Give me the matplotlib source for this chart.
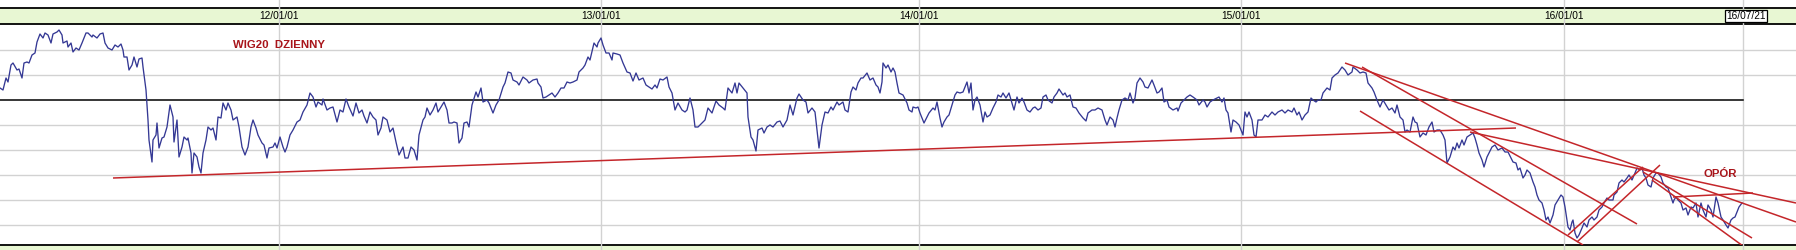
import numpy as np
import matplotlib
matplotlib.use("Agg")
import matplotlib.pyplot as plt
from matplotlib.patches import Rectangle
from matplotlib.lines import Line2D
from matplotlib import transforms

# WIG20 daily close (session index, level)
t = [0, 3, 6, 8, 11, 13, 17, 19, 22, 24, 27, 29, 32, 35, 37, 40, 43, 45, 48, 51, 53, 57, 59, 62, 63, 67, 68, 71, 73, 76,
     79, 82, 86, 88, 92, 93, 97, 100, 103, 105, 108, 112, 115, 118, 121, 123, 124, 127, 129, 132, 134, 137, 139, 142, 143,
     146, 148, 149, 152, 153, 156, 157, 159, 162, 164, 167, 170, 173, 174, 177, 179, 182, 184, 187, 188, 191, 192, 194,
     197, 199, 201, 203, 206, 208, 211, 213, 216, 218, 221, 223, 226, 228, 231, 233, 237, 239, 242, 245, 248, 251, 253,
     256, 258, 262, 264, 267, 269, 273, 275, 277, 280, 283, 285, 287, 290,
     293, 297, 300, 303, 307, 310, 313, 316, 318, 322, 323, 327, 330, 333, 337, 340, 343, 346, 349, 353, 356, 359, 362,
     364, 367, 370, 373, 376, 378, 381, 383, 387, 390, 393, 396, 399, 403, 405, 408, 411, 414, 417, 419, 423, 425, 427,
     430, 433, 436, 438, 441, 444, 447, 449, 452, 454, 457, 459, 462, 464, 467, 469, 472, 476, 478, 481, 483, 487, 489,
     493, 496, 499, 503, 505, 508, 511, 513, 517, 519, 523, 527, 529, 533, 537, 538, 541, 543, 546, 549, 552, 555, 558,
     561, 564, 567, 570, 573, 577, 579, 583, 585, 588,
     590, 594, 597, 598, 601, 603, 606, 609, 612, 613, 617, 620, 623, 627, 630, 633, 636, 639, 643, 646, 649, 652, 655,
     657, 660, 663, 667, 669, 672, 675, 678, 682, 685, 687, 690, 693, 695, 698, 702, 705, 708, 712, 713, 716, 719, 723,
     725, 728, 732, 735, 737, 739, 743, 747, 748, 751, 753, 756, 758, 762, 764, 767, 770, 773, 777, 780, 783, 787, 790,
     793, 797, 799, 803, 806, 808, 812, 815, 817, 819, 822, 825, 828, 831, 833, 837, 839, 843, 845, 848, 851, 853, 856,
     858, 861, 863, 867, 870, 873, 876, 878,
     880, 882, 883, 886, 888, 891, 893, 895, 897, 899, 903, 907, 909, 912, 913, 916, 918, 920, 922, 924, 927, 929, 933,
     935, 937, 940, 942, 944, 947, 949, 952, 955, 957, 960, 963, 965, 967, 969, 971, 973, 975, 977, 980, 983, 985, 987,
     990, 993, 996, 998, 1001, 1003, 1006, 1009, 1012, 1014, 1017, 1019, 1022, 1024, 1027, 1030, 1033, 1035, 1038, 1041,
     1043, 1046, 1048, 1052, 1054, 1057, 1059, 1063, 1065, 1067, 1070, 1073, 1076, 1079, 1083, 1086, 1088, 1092, 1095,
     1098, 1102, 1105, 1107, 1110, 1113, 1115, 1117, 1119, 1122, 1125, 1128, 1130, 1133, 1135, 1137, 1140, 1143, 1145,
     1148, 1152, 1154, 1157, 1159, 1162, 1164, 1167, 1169,
     1173, 1177, 1178, 1181, 1184, 1187, 1190, 1193, 1197, 1199, 1203, 1205, 1207, 1210, 1213, 1217, 1219, 1222, 1224,
     1226, 1228, 1231, 1233, 1236, 1239, 1243, 1245, 1247, 1249, 1252, 1254, 1256, 1258, 1262, 1265, 1268, 1272, 1275,
     1278, 1282, 1285, 1288, 1292, 1294, 1297, 1299, 1302, 1305, 1308, 1311, 1313, 1316, 1318, 1321, 1323, 1327, 1330,
     1332, 1335, 1338, 1342, 1345, 1348, 1352, 1353, 1357, 1360, 1363, 1366, 1368, 1372, 1374, 1377, 1380, 1383, 1386,
     1389, 1392, 1395, 1397, 1400, 1403, 1405, 1407, 1410, 1413, 1415, 1417, 1420, 1423, 1426, 1429, 1432, 1434, 1437,
     1440, 1443, 1445, 1447, 1450, 1453, 1455, 1457, 1459, 1462, 1464, 1467, 1470, 1473, 1475, 1477, 1479, 1482, 1484,
     1487, 1489, 1492, 1495, 1498, 1502, 1505, 1508, 1511, 1513, 1516, 1518, 1520, 1523, 1525, 1527, 1530, 1533, 1535,
     1537, 1539, 1542, 1544, 1546, 1548, 1550, 1553, 1555, 1558, 1561, 1563, 1565, 1567, 1568, 1570, 1572, 1573, 1575,
     1577, 1579, 1582, 1584, 1587, 1589, 1592, 1594, 1597, 1599, 1602, 1604, 1607, 1609, 1613, 1614, 1617, 1619, 1622,
     1624, 1627, 1629, 1632, 1635, 1637, 1640, 1642, 1644, 1646, 1648, 1651, 1653, 1656, 1658, 1661, 1663, 1666, 1668,
     1671, 1673, 1674, 1676, 1678, 1681, 1683, 1686, 1688, 1691, 1693, 1696, 1698, 1701, 1703, 1706, 1708, 1711, 1713,
     1716, 1718, 1721, 1723, 1726, 1728, 1731, 1733, 1735, 1737, 1739, 1742]

wig20 = [2448, 2440, 2488, 2472, 2540, 2548, 2520, 2524, 2488, 2548, 2552, 2548, 2580, 2588, 2632, 2664, 2648, 2668, 2660,
         2628, 2664, 2672, 2680, 2660, 2628, 2636, 2612, 2628, 2592, 2608, 2600, 2628, 2668, 2668, 2652, 2660, 2648, 2664,
         2668, 2628, 2608, 2600, 2620, 2612, 2624, 2600, 2572, 2572, 2520, 2540, 2572, 2532, 2564, 2568, 2532, 2440, 2320,
         2240, 2152, 2240, 2260, 2308, 2208, 2248, 2252, 2292, 2380, 2332, 2232, 2320, 2172, 2212, 2252, 2240, 2248, 2188,
         2108, 2188, 2172, 2132, 2108, 2188, 2240, 2292, 2280, 2288, 2240, 2332, 2328, 2388, 2360, 2388, 2360, 2320, 2332,
         2292, 2212, 2180, 2212, 2292, 2320, 2288, 2260, 2228, 2220, 2168, 2208, 2212, 2228, 2208, 2252, 2212, 2192, 2212,
         2260,
         2280, 2312, 2320, 2352, 2380, 2428, 2412, 2372, 2392, 2380, 2404, 2360, 2368, 2372, 2312, 2360, 2352, 2404, 2372,
         2336, 2388, 2348, 2360, 2336, 2308, 2352, 2332, 2320, 2260, 2288, 2332, 2320, 2272, 2288, 2232, 2180, 2212, 2168,
         2168, 2212, 2200, 2160, 2260, 2320, 2332, 2368, 2340, 2360, 2388, 2352, 2372, 2392, 2360, 2308, 2308, 2312, 2308,
         2228, 2248, 2308, 2312, 2292, 2380, 2432, 2412, 2448, 2392, 2400, 2388, 2348, 2380, 2400, 2452, 2468, 2512, 2508,
         2480, 2472, 2460, 2492, 2480, 2468, 2480, 2484, 2468, 2452, 2408, 2412, 2420, 2428, 2412, 2428, 2448, 2448, 2472,
         2468, 2472, 2480, 2512, 2528, 2540, 2572,
         2560, 2628, 2612, 2628, 2648, 2620, 2588, 2588, 2560, 2588, 2584, 2580, 2548, 2512, 2508, 2476, 2508, 2480, 2488,
         2460, 2452, 2444, 2460, 2448, 2484, 2480, 2492, 2452, 2428, 2360, 2388, 2360, 2352, 2360, 2408, 2360, 2292, 2292,
         2308, 2320, 2368, 2348, 2360, 2396, 2380, 2368, 2360, 2448, 2428, 2468, 2428, 2468, 2448, 2428, 2332, 2252, 2240,
         2196, 2280, 2288, 2268, 2292, 2300, 2292, 2312, 2316, 2292, 2320, 2380, 2340, 2408, 2424, 2400, 2392, 2348, 2368,
         2352, 2280, 2208, 2300, 2352, 2348, 2372, 2360, 2392, 2380, 2392, 2360, 2352, 2432, 2452, 2440, 2468, 2488, 2488,
         2508, 2480, 2488, 2460, 2452,
         2428, 2472, 2548, 2528, 2540, 2512, 2528, 2512, 2468, 2428, 2420, 2388, 2360, 2352, 2372, 2368, 2372, 2348, 2328,
         2308, 2332, 2348, 2368, 2360, 2392, 2328, 2292, 2312, 2332, 2340, 2380, 2420, 2432, 2428, 2432, 2452, 2472, 2428,
         2468, 2360, 2400, 2412, 2380, 2312, 2352, 2332, 2340, 2368, 2392, 2420, 2412, 2428, 2408, 2428, 2388, 2360, 2412,
         2388, 2408, 2392, 2360, 2352, 2368, 2372, 2360, 2368, 2412, 2420, 2400, 2388, 2412, 2428, 2444, 2420, 2428, 2412,
         2420, 2372, 2368, 2348, 2328, 2316, 2348, 2360, 2360, 2368, 2360, 2320, 2300, 2332, 2320, 2292, 2328, 2360, 2400,
         2408, 2400, 2428, 2388, 2408, 2468, 2488, 2472, 2452, 2448, 2480, 2460, 2428, 2432, 2448, 2392, 2400, 2372,
         2360, 2368, 2356, 2388, 2400, 2412, 2420, 2412, 2400, 2380, 2400, 2392, 2372, 2392, 2400, 2408, 2412, 2392, 2408,
         2360, 2348, 2272, 2320, 2312, 2300, 2260, 2352, 2332, 2352, 2320, 2260, 2252, 2320, 2320, 2340, 2332, 2352, 2340,
         2352, 2360, 2348, 2360, 2352, 2368, 2340, 2352, 2320, 2340, 2352, 2408, 2400, 2392, 2400, 2400, 2428, 2448, 2440,
         2488, 2500, 2508, 2532, 2520, 2500, 2512, 2532, 2520, 2508, 2512, 2508, 2468, 2448, 2432, 2400, 2372, 2400, 2380,
         2360, 2368, 2348, 2380, 2332, 2320, 2272, 2280, 2272, 2332, 2312, 2308, 2252, 2268, 2260, 2292, 2312, 2272, 2280,
         2280, 2260, 2240, 2148, 2172, 2212, 2200, 2228, 2208, 2240, 2220, 2252, 2260, 2268, 2248, 2220, 2188, 2160, 2132,
         2172, 2188, 2212, 2220, 2200, 2208, 2192, 2192, 2168, 2152, 2148, 2120, 2128, 2088, 2100, 2120, 2108, 2072, 2052,
         2020, 2000, 1988, 1960, 1920, 1932, 1908, 1940, 1980, 2000, 2020, 2012, 1972, 1920, 1892, 1880, 1912, 1920, 1868,
         1848, 1860, 1888, 1908, 1892, 1920, 1932, 1920, 1932, 1960, 1972, 1988, 2008, 2000, 2000, 2020, 2032, 2068, 2080,
         2072, 2088, 2100, 2080, 2108, 2128, 2120, 2128, 2100, 2088, 2060, 2052, 2088, 2108, 2108, 2092, 2068, 2052, 2048,
         2012, 1988, 2000, 2012, 2000, 1988, 1960, 1968, 1940, 1972, 1968, 1988, 1932, 1988, 1960, 1932, 1980, 1960, 1932,
         2012, 1988, 1932, 1920, 1900, 1888, 1920, 1928, 1932, 1952, 1972, 1988]

# year ticks
tick_pos = [279, 601, 919, 1241, 1564]
tick_labels = ["12/01/01", "13/01/01", "14/01/01", "15/01/01", "16/01/01"]
last_pos = 1743
last_label = "16/07/21"

grid_levels = [2600, 2500, 2300, 2200, 2100, 2000, 1900]
ref_level = 2400

# trend lines drawn by hand (t0, v0, t1, v1)
trend_lines = [
    (113, 2088, 1516, 2288),
    (1345, 2548, 1796, 1912),
    (1362, 2532, 1637, 1904),
    (1360, 2356, 1583, 1820),
    (1470, 2272, 1796, 1988),
    (1568, 1860, 1643, 2132),
    (1577, 1832, 1660, 2140),
    (1643, 2112, 1752, 1848),
    (1652, 2080, 1743, 1816),
    (1673, 2012, 1753, 2028),
]

W, H = 1796, 250
fig = plt.figure(figsize=(W / 100, H / 100), dpi=100)
fig.patch.set_facecolor("white")
ax = fig.add_axes([0, 5 / H, 1, 221 / H])
ax.set_xlim(0, W)
ax.set_ylim(1820, 2704)
ax.axis("off")

green = "#E8F7D3"
# top band
fig.patches.append(Rectangle((0, 226 / H), 1, 16 / H, transform=fig.transFigure,
                             facecolor=green, edgecolor="none", zorder=-5))
fig.lines.append(Line2D([0, 1], [242 / H, 242 / H], transform=fig.transFigure, color="black", lw=1.3, zorder=-4))
fig.lines.append(Line2D([0, 1], [226 / H, 226 / H], transform=fig.transFigure, color="black", lw=1.3, zorder=-4))
# bottom strip
fig.patches.append(Rectangle((0, 0), 1, 5 / H, transform=fig.transFigure,
                             facecolor=green, edgecolor="none", zorder=-5))
fig.lines.append(Line2D([0, 1], [5 / H, 5 / H], transform=fig.transFigure, color="black", lw=1.3, zorder=-4))

for g in grid_levels:
    ax.axhline(g, color="#D2D2D2", lw=1.0, zorder=1)
ax.plot([0, last_pos], [ref_level, ref_level], color="black", lw=1.1, zorder=2)

for p in tick_pos + [last_pos]:
    ax.axvline(p, ymin=-5 / 221, ymax=245 / 221, color="#D2D2D2", lw=1.0, zorder=1, clip_on=False)

ax.plot(t, wig20, color="#343894", lw=0.95, zorder=4)

for x0, y0, x1, y1 in trend_lines:
    ax.plot([x0, x1], [y0, y1], color="#C4262A", lw=1.1, zorder=5, solid_capstyle="butt")

trans = transforms.blended_transform_factory(ax.transData, fig.transFigure)
for p, lab in zip(tick_pos, tick_labels):
    ax.text(p, 234 / H, lab, transform=trans, ha="center", va="center",
            fontsize=7.3, family="Liberation Sans", color="black", clip_on=False, zorder=6)
ax.text(last_pos + 3, 234 / H, last_label, transform=trans, ha="center", va="center",
        fontsize=7.3, family="Liberation Sans", color="black", clip_on=False, zorder=6,
        bbox=dict(boxstyle="square,pad=0.12", facecolor="white", edgecolor="black", lw=0.9))

ax.text(233, 2620, "WIG20  DZIENNY", color="#A8141A", fontsize=8.2, family="Liberation Sans",
        fontweight="bold", ha="left", va="center")
ax.text(1703, 2104, "OPÓR", color="#A8141A", fontsize=8.2, family="Liberation Sans",
        fontweight="bold", ha="left", va="center")

fig.savefig("out.png", dpi=100)
